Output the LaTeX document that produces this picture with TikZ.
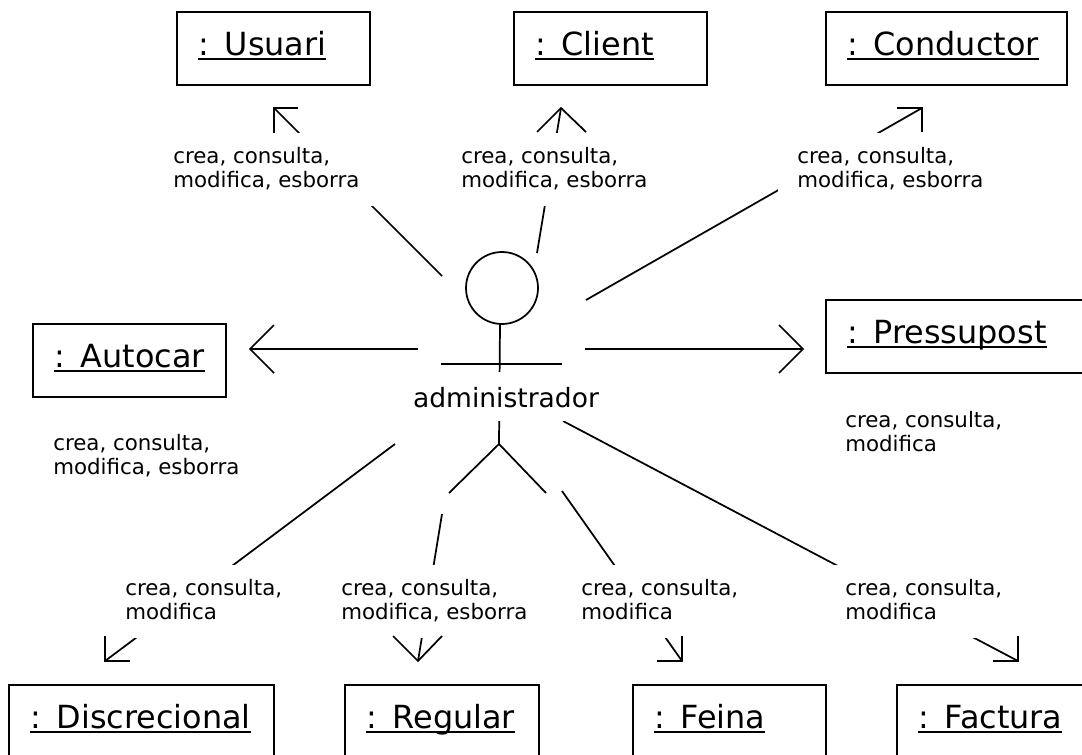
\documentclass[tikz,border=0pt]{standalone}
\usepackage{fontspec}
\setmainfont{DejaVu Sans}
\usepackage{xcolor}

\newsavebox{\objnamebox}
\newcommand{\objname}[1]{\sbox{\objnamebox}{#1}\rlap{\vrule width\wd\objnamebox height-2.6pt depth4.1pt}\usebox{\objnamebox}}

\begin{document}
\begin{tikzpicture}[
  x=0.75pt,
  y=-0.75pt,
  objbox/.style={
    draw,
    line width=1.5pt,
    anchor=north west,
    inner xsep=15.75pt,
    inner ysep=0pt,
    outer sep=0pt,
    text width=#1,
    align=left,
    text height=32.25pt,
    text depth=22.5pt,
    font=\fontsize{23.9}{28}\selectfont
  },
  lbl/.style={
    anchor=west,
    fill=white,
    align=left,
    inner xsep=14.25pt,
    inner ysep=0pt,
    minimum height=54.75pt,
    text depth=3pt,
    font=\fontsize{16}{18}\selectfont
  },
  plainlbl/.style={
    anchor=west,
    align=left,
    inner xsep=14.25pt,
    inner ysep=0pt,
    text depth=3pt,
    font=\fontsize{16}{18}\selectfont
  },
  arr/.style={
    line width=1.3pt
  }
]
\useasboundingbox (0,0) rectangle (1082,754);
\clip (0,0) rectangle (1082,754);

% objects
\node [objbox=113.25pt] (usuari) at (177,12) {\objname{: Usuari}};
\node [objbox=113.25pt] (client) at (514,12) {\objname{: Client}};
\node [objbox=149.25pt] (conductor) at (826,12) {\objname{: Conductor}};
\node [objbox=113.25pt] (autocar) at (33,324) {\objname{: Autocar}};
\node [objbox=195pt] (pressupost) at (826,300) {\objname{: Pressupost}};
\node [objbox=167.25pt] (discrecional) at (9,685) {\objname{: Discrecional}};
\node [objbox=114pt] (regular) at (345,685) {\objname{: Regular}};
\node [objbox=113.25pt] (feina) at (633,685) {\objname{: Feina}};
\node [objbox=150pt] (factura) at (897,685) {\objname{: Factura}};

% ends of the connectors
\coordinate (startusuari) at (442,276);
\coordinate (tipusuari) at (274,108);
\coordinate (startclient) at (537,253);
\coordinate (tipclient) at (561,108);
\coordinate (startconductor) at (586,300);
\coordinate (tipconductor) at (922,108);
\coordinate (startautocar) at (418,349);
\coordinate (tipautocar) at (250,349);
\coordinate (startpressupost) at (585,349);
\coordinate (tippressupost) at (803,349);
\coordinate (startdiscrecional) at (395,444);
\coordinate (tipdiscrecional) at (105,661);
\coordinate (startregular) at (442,514);
\coordinate (tipregular) at (418,661);
\coordinate (startfeina) at (562,491);
\coordinate (tipfeina) at (682,661);
\coordinate (startfactura) at (563,421);
\coordinate (tipfactura) at (1018,661);

\draw [arr] (startusuari) -- (tipusuari);
\draw [arr] (startclient) -- (tipclient);
\draw [arr] (startconductor) -- (tipconductor);
\draw [arr] (startautocar) -- (tipautocar);
\draw [arr] (startpressupost) -- (tippressupost);
\draw [arr] (startdiscrecional) -- (tipdiscrecional);
\draw [arr] (startregular) -- (tipregular);
\draw [arr] (startfeina) -- (tipfeina);
\draw [arr] (startfactura) -- (tipfactura);

% labels hide the middle of the connectors
\node [lbl] (lblusuari) at (154,169) {crea, consulta,\\modifica, esborra};
\node [lbl] (lblclient) at (442,169) {crea, consulta,\\modifica, esborra};
\node [lbl] (lblconductor) at (778,169) {crea, consulta,\\modifica, esborra};
\node [plainlbl] (lblautocar) at (34,456) {crea, consulta,\\modifica, esborra};
\node [plainlbl] (lblpressupost) at (826,433) {crea, consulta,\\modifica};
\node [lbl] (lbldiscrecional) at (106,601) {crea, consulta,\\modifica};
\node [lbl] (lblregular) at (322,601) {crea, consulta,\\modifica, esborra};
\node [lbl] (lblfeina) at (562,601) {crea, consulta,\\modifica};
\node [lbl] (lblfactura) at (826,601) {crea, consulta,\\modifica};

% arrow heads
\draw [arr] (tipusuari) ++(0,25) -- (tipusuari) -- ++(24,0);
\draw [arr] (tipclient) ++(-24,24) -- (tipclient) -- ++(25,24);
\draw [arr] (tipconductor) ++(-25,0) -- (tipconductor) -- ++(0,24);
\draw [arr] (tipautocar) ++(24,-24) -- (tipautocar) -- ++(24,24);
\draw [arr] (tippressupost) ++(-24,-24) -- (tippressupost) -- ++(-24,24);
\draw [arr] (tipdiscrecional) ++(0,-25) -- (tipdiscrecional) -- ++(25,0);
\draw [arr] (tipregular) ++(-25,-25) -- (tipregular) -- ++(24,-25);
\draw [arr] (tipfeina) ++(-25,0) -- (tipfeina) -- ++(0,-25);
\draw [arr] (tipfactura) ++(-25,0) -- (tipfactura) -- ++(0,-25);

% actor
\node [draw, circle, line width=1.3pt, minimum size=54pt, inner sep=0pt] (head) at (502,288) {};
\coordinate (hip) at (499,444);
\coordinate (neck) at (500,324);
\coordinate (armleft) at (441,364);
\coordinate (armright) at (562,364);
\coordinate (footleft) at (449,493);
\coordinate (footright) at (546,493);
\draw [arr] (neck) -- (hip);
\draw [arr] (armleft) -- (armright);
\draw [arr] (footleft) -- (hip) -- (footright);
\node [fill=white, inner xsep=0pt, inner ysep=0pt, minimum height=36.75pt, text height=17pt, font=\fontsize{19.9}{24}\selectfont] (administrador) at (506,396.5) {administrador};

\end{tikzpicture}
\end{document}
